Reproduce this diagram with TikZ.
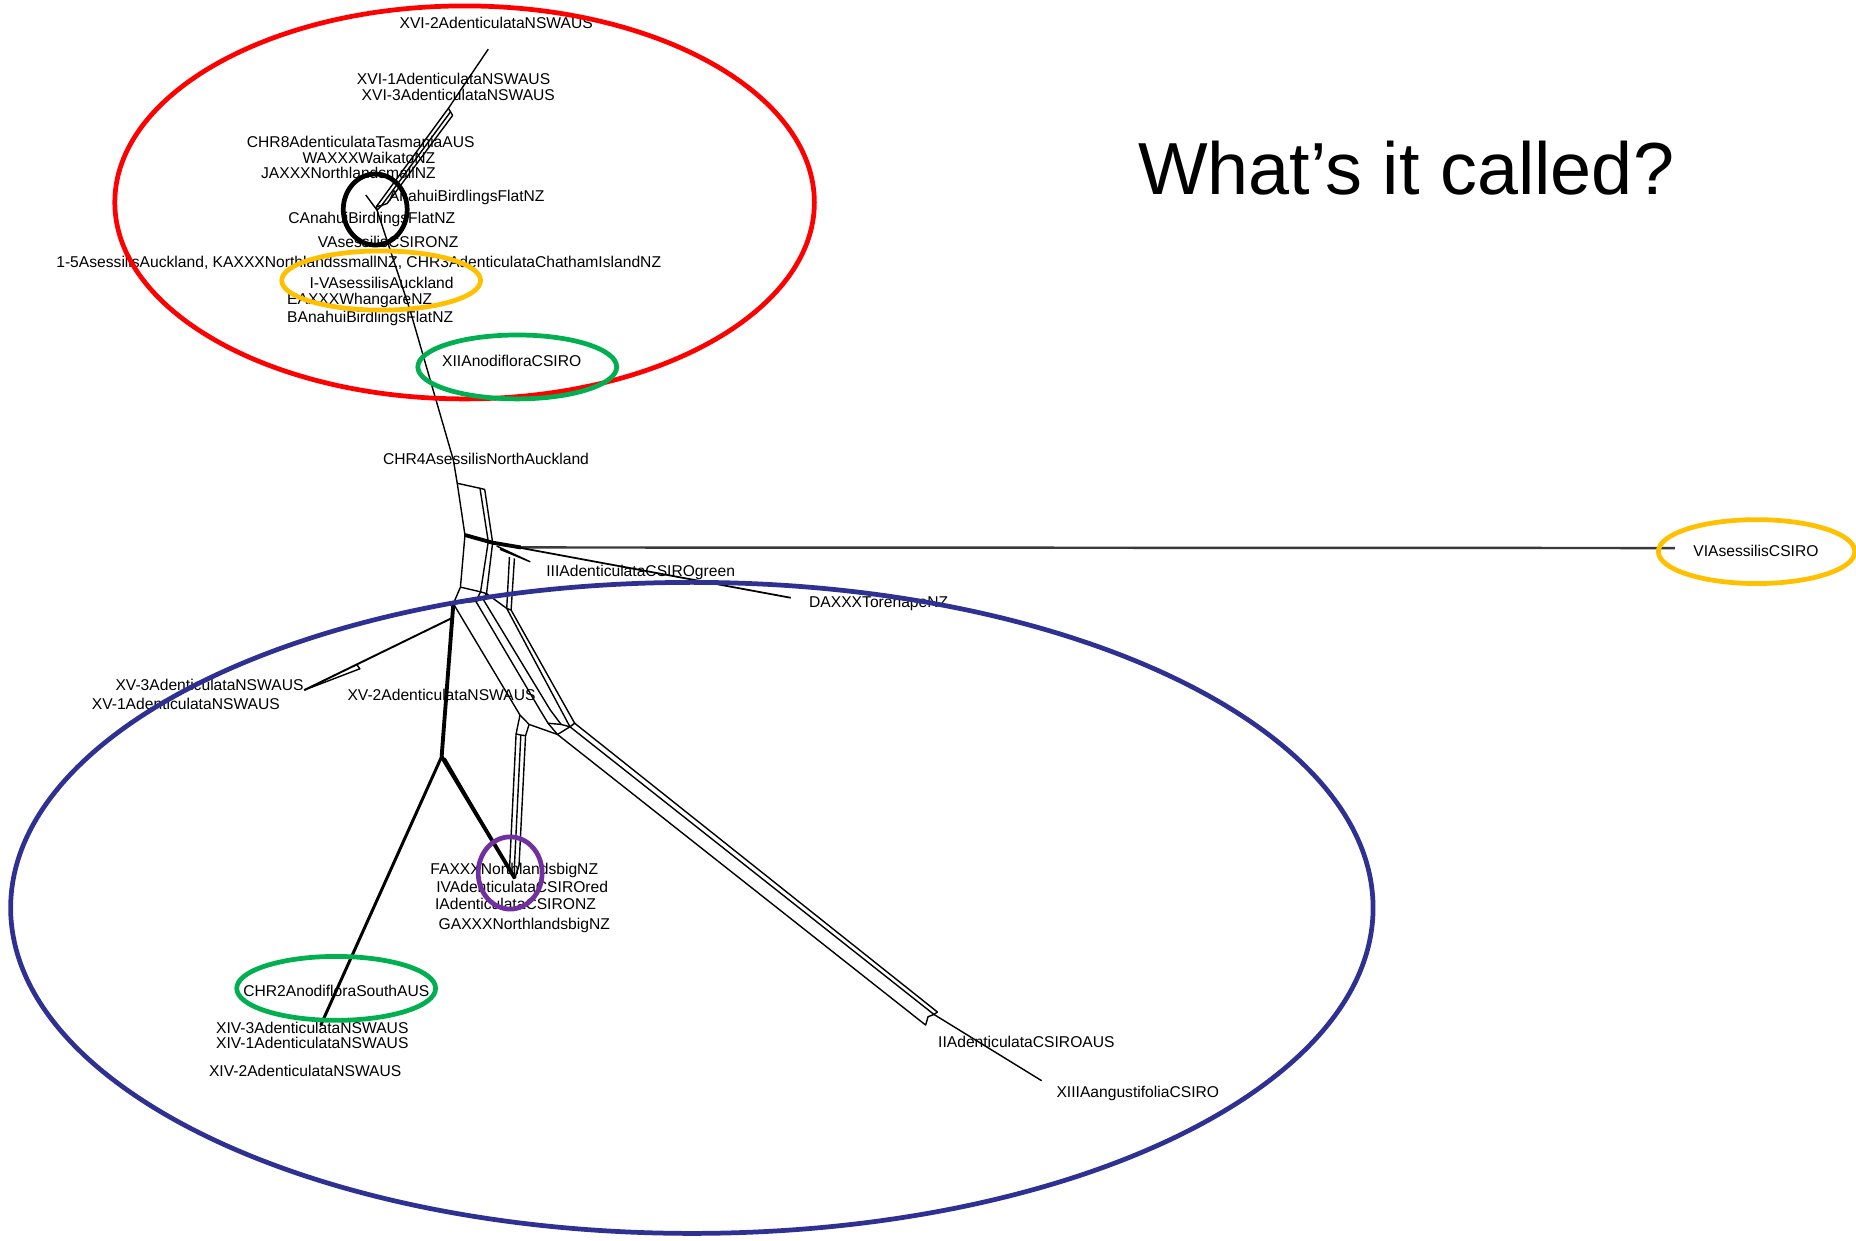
\documentclass[tikz,border=0pt]{standalone}
\usepackage{fontspec}
\setmainfont{Liberation Sans}
\definecolor{ringred}{HTML}{FF0000}
\definecolor{ringblue}{HTML}{2E3192}
\definecolor{ringgreen}{HTML}{00B050}
\definecolor{ringorange}{HTML}{FFC000}
\definecolor{ringpurple}{HTML}{7030A0}
\definecolor{vigray}{HTML}{3A3A3A}
\begin{document}
\begin{tikzpicture}[x=0.011837cm,y=-0.011837cm,
  lbl/.style={anchor=west,inner sep=0pt,font=\fontsize{4.45}{5}\selectfont},
  net/.style={line width=0.4pt,black,line join=round},
  netthick/.style={line width=1.1pt,black,line join=round},
  ring/.style={line width=1.35pt}]
\useasboundingbox (0,0) rectangle (1568,1048);
\fill[white] (0,0) rectangle (1568,1048);

% ---------- network: upper part ----------
\coordinate (t16) at (412.5,41.5);
\coordinate (b1) at (378.8,91.5);
\coordinate (b2) at (380.6,94.5);
\coordinate (b3) at (382.4,97.5);
\coordinate (e1) at (318,174.5);
\coordinate (e2) at (322.5,173.5);
\coordinate (e3) at (327,172);
\coordinate (jv) at (318.5,177.5);
\coordinate (vl) at (309,164.7);
\coordinate (m1) at (346.4,262);
\coordinate (p0) at (383,388.6);
\draw[net] (t16) -- (b1) -- (e1);
\draw[net] (b1) -- (b2) -- (e2);
\draw[net] (b2) -- (b3) -- (e3);
\draw[net] (e3) -- (e2) -- (e1) -- (jv);
\draw[net] (e2) -- (jv);
\draw[net] (vl) -- (jv) -- (m1) -- (p0);

% ---------- central box ----------
\coordinate (A1) at (386.3,408.3);
\coordinate (A2) at (405.5,412.5);
\coordinate (A3) at (409.5,413.5);
\coordinate (B1) at (392.8,452);
\coordinate (B2) at (412.5,457.5);
\coordinate (B3) at (416.2,458.5);
\coordinate (C1) at (389,496);
\coordinate (C2) at (406,500);
\coordinate (C3) at (411,501.5);
\coordinate (D1) at (383,510);
\coordinate (D2) at (402,508);
\coordinate (D3) at (408,506);
\draw[net] (p0) -- (A1) -- (A2) -- (A3);
\draw[net] (A1) -- (B1) -- (C1) -- (D1);
\draw[net] (A2) -- (B2) -- (C2) -- (D2);
\draw[net] (A3) -- (B3) -- (C3) -- (D3);
\draw[net] (C1) -- (C2) -- (C3);
\draw[net] (D1) -- (D2) -- (D3);
\coordinate (E) at (440,462.5);
\coordinate (VIend) at (1415,463);
\draw[netthick] (B1) -- (B2) -- (B3) -- (E);
\draw[line width=0.7pt,vigray] (E) -- (VIend);
\coordinate (DAend) at (668,505);
\draw[line width=0.5pt] (B3) -- (DAend);
% small III branch
\coordinate (s1) at (419.6,461.3);
\coordinate (s2) at (422.4,464.1);
\coordinate (stip) at (447.7,474.5);
\draw[net] (s1) -- (stip) -- (s2);
\coordinate (V1t) at (430.4,470.4);
\coordinate (V2t) at (434.6,471.8);
\coordinate (V1b) at (428.1,514);
\coordinate (V2b) at (431.8,515.4);
\draw[net] (V1t) -- (V1b) -- (V2b) -- (V2t);
\draw[net] (C3) -- (V1b);

% ---------- lower part ----------
\coordinate (T1) at (373.1,639.2);
\draw[netthick] (D1) -- (T1);
\coordinate (XVa) at (382.1,522);
\coordinate (XVb) at (301,561);
\coordinate (XVc) at (304,565);
\coordinate (XVend) at (257,583);
\draw[line width=0.55pt] (XVa) -- (XVend);
\draw[net] (XVb) -- (XVc) -- (XVend);
\coordinate (CHRend) at (271,866);
\draw[line width=0.85pt] (T1) -- (CHRend);
\coordinate (Ft) at (435,742);
\coordinate (T1b) at (376,640.5);
\draw[netthick] (T1) -- (Ft);
\draw[net] (T1b) -- (Ft);

% bundles to the junction
\coordinate (G1) at (439.3,604.1);
\coordinate (G2) at (456.2,599.8);
\coordinate (G3) at (465,600);
\coordinate (H1) at (481.5,614);
\coordinate (H2) at (485.5,611);
\coordinate (Yr) at (447,612);
\coordinate (Q1) at (463,611);
\coordinate (Q2) at (474,612);
\coordinate (W) at (471,620.5);
\draw[net] (D1) -- (G1);
\draw[net] (D2) -- (G2);
\draw[net] (D3) -- (G3);
\draw[net] (V1b) -- (H1);
\draw[net] (V2b) -- (H2);
\draw[net] (G1) -- (Yr) -- (W);
\draw[net] (G2) -- (Q1) -- (W);
\draw[net] (G3) -- (Q2) -- (H1);
\draw[net] (Q1) -- (Q2);
\draw[net] (W) -- (H1) -- (H2);
% FA branch
\coordinate (Fa) at (436,620);
\coordinate (Fb) at (440,621);
\coordinate (Fc) at (444,621.5);
\coordinate (Fa2) at (430.5,733);
\coordinate (Fb2) at (434.5,734);
\coordinate (Fc2) at (438.5,731);
\draw[net] (G1) -- (Fa) -- (Fb) -- (Fc) -- (Yr);
\draw[net] (Fa) -- (Fa2) -- (Ft);
\draw[net] (Fb) -- (Fb2) -- (Ft);
\draw[net] (Fc) -- (Fc2) -- (Ft);
% II / XIII branch
\coordinate (K1) at (789,857);
\coordinate (K2) at (792,855);
\coordinate (K3) at (782,866);
\coordinate (K4) at (784,859);
\coordinate (XIIIend) at (880,913);
\draw[net] (H1) -- (K1);
\draw[net] (H2) -- (K2);
\draw[net] (W) -- (K3) -- (K4) -- (K1) -- (K2);
\draw[net] (K1) -- (XIIIend);

% ---------- labels ----------
\node[lbl] (l1) at (337,19) {XVI-2AdenticulataNSWAUS};
\node[lbl] (l2) at (301,67) {XVI-1AdenticulataNSWAUS};
\node[lbl] (l3) at (305,80) {XVI-3AdenticulataNSWAUS};
\node[lbl] (l4) at (208,120) {CHR8AdenticulataTasmaniaAUS};
\node[lbl] (l5) at (255,133) {WAXXXWaikatoNZ};
\node[lbl] (l6) at (220,146) {JAXXXNorthlandsmallNZ};
\node[lbl] (l7) at (328,167) {AnahuiBirdlingsFlatNZ};
\node[lbl] (l8) at (243,185) {CAnahuiBirdlingsFlatNZ};
\node[lbl] (l9) at (268,204) {VAsessilisCSIRONZ};
\node[lbl] (l10) at (47,222) {1-5AsessilisAuckland, KAXXXNorthlandssmallNZ, CHR3AdenticulataChathamIslandNZ};
\node[lbl] (l11) at (261,239) {I-VAsessilisAuckland};
\node[lbl] (l12) at (242,254) {EAXXXWhangareNZ};
\node[lbl] (l13) at (242,269) {BAnahuiBirdlingsFlatNZ};
\node[lbl] (l14) at (373,305) {XIIAnodifloraCSIRO};
\node[lbl] (l15) at (323,388) {CHR4AsessilisNorthAuckland};
\node[lbl] (l16) at (1430,465) {VIAsessilisCSIRO};
\node[lbl] (l17) at (461,484) {IIIAdenticulataCSIROgreen};
\node[lbl] (l18) at (683,510) {DAXXXTorehapeNZ};
\node[lbl] (l19) at (97,579) {XV-3AdenticulataNSWAUS};
\node[lbl] (l20) at (77,595) {XV-1AdenticulataNSWAUS};
\node[lbl] (l21) at (293,587) {XV-2AdenticulataNSWAUS};
\node[lbl] (l22) at (363,735) {FAXXXNorthlandsbigNZ};
\node[lbl] (l23) at (368,749) {IVAdenticulataCSIROred};
\node[lbl] (l24) at (367,764) {IAdenticulataCSIRONZ};
\node[lbl] (l25) at (370,782) {GAXXXNorthlandsbigNZ};
\node[lbl] (l26) at (205,837) {CHR2AnodifloraSouthAUS};
\node[lbl] (l27) at (182,868) {XIV-3AdenticulataNSWAUS};
\node[lbl] (l28) at (182,881) {XIV-1AdenticulataNSWAUS};
\node[lbl] (l29) at (176,905) {XIV-2AdenticulataNSWAUS};
\node[lbl] (l30) at (792,880) {IIAdenticulataCSIROAUS};
\node[lbl] (l31) at (892,924) {XIIIAangustifoliaCSIRO};

% ---------- title ----------
\node[font=\fontsize{21}{25}\selectfont,inner sep=0pt] (title) at (1188,142) {What’s it called?};

% ---------- rings ----------
\draw[ring,ringred] (392.5,171) ellipse [x radius=295.5, y radius=166];
\draw[ring,ringblue] (584.5,767) ellipse [x radius=575.5, y radius=275];
\draw[ring,black] (317,177) ellipse [x radius=27, y radius=30];
\draw[ring,ringorange] (322,237) ellipse [x radius=84, y radius=25];
\draw[ring,ringgreen] (437,310) ellipse [x radius=84, y radius=27];
\draw[ring,ringorange] (1484,466) ellipse [x radius=83, y radius=27];
\draw[ring,ringgreen] (284,835) ellipse [x radius=84, y radius=27];
\draw[ring,ringpurple] (431,737.5) ellipse [x radius=27, y radius=30.5];
\end{tikzpicture}
\end{document}
